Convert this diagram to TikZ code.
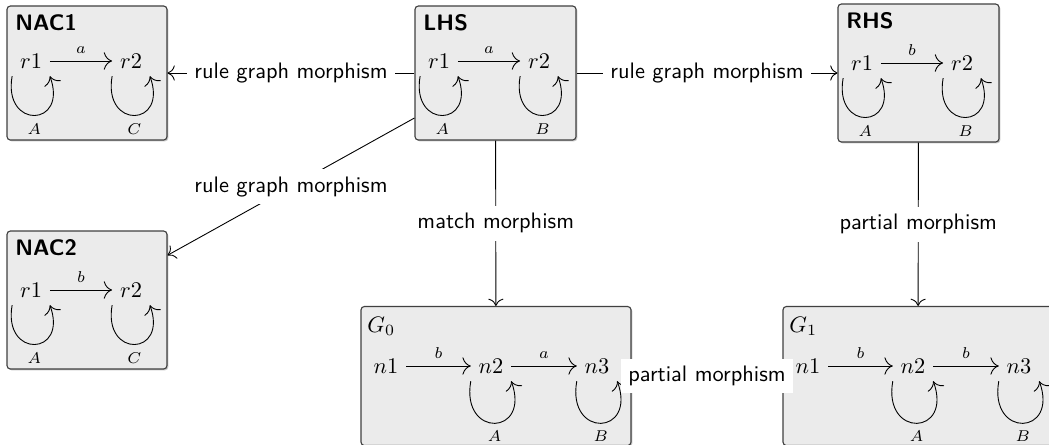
\documentclass[tikz,border=0pt]{standalone}
\usetikzlibrary{shadows,arrows.meta}
\tikzset{
  box/.style={draw=black!75, fill=black!8, rounded corners=1.5pt, line width=0.5pt,
    drop shadow={shadow xshift=0.6pt, shadow yshift=-0.6pt, opacity=0.45}, inner sep=0pt},
  vert/.style={inner sep=3.33pt},
  ttl/.style={font=\sffamily\bfseries, anchor=base west, inner sep=0pt},
  gttl/.style={anchor=base west, inner sep=0pt},
  conn/.style={-{To[scale=1.3]}, line width=0.4pt},
  arr/.style={-{To[scale=1.5]}, line width=0.4pt},
  lab/.style={font=\sffamily, fill=white},
  elab/.style={font=\scriptsize, above},
  llab/.style={font=\scriptsize, below},
  loopy/.style={arr, out=-100, in=-70, looseness=3.7},
}
% #1 prefix, #2 box left x, #3 title baseline y, #4 row y, #5 title, #6 edge label, #7,#8 loop labels
\newcommand{\twograph}[8]{%
  \node[ttl] (#1T) at ({#2+8},{#3}) {#5};
  \node[vert] (#1x) at ({#2+24},{#4}) {$r1$};
  \node[vert] (#1y) at ({#2+124},{#4}) {$r2$};
  \draw[arr] (#1x) -- node[elab]{$#6$} (#1y);
  \draw[loopy] (#1x.south west) to node[llab]{$#7$} (#1x.south east);
  \draw[loopy] (#1y.south west) to node[llab]{$#8$} (#1y.south east);
}
% #1 prefix, #2 box left x, #3 title baseline y, #4 row y, #5 title, #6 #7 edge labels
\newcommand{\threegraph}[7]{%
  \node[gttl] (#1T) at ({#2+6},{#3}) {$#5$};
  \node[vert] (#1x) at ({#2+25},{#4}) {$n1$};
  \node[vert] (#1y) at ({#2+130},{#4}) {$n2$};
  \node[vert] (#1z) at ({#2+236},{#4}) {$n3$};
  \draw[arr] (#1x) -- node[elab]{$#6$} (#1y);
  \draw[arr] (#1y) -- node[elab]{$#7$} (#1z);
  \draw[loopy] (#1y.south west) to node[llab]{$A$} (#1y.south east);
  \draw[loopy] (#1z.south west) to node[llab]{$B$} (#1z.south east);
}
\begin{document}
\begin{tikzpicture}[x=0.4464pt, y=-0.4464pt]
\useasboundingbox (0,0) rectangle (1049,444);
% boxes
\node[box, minimum width=71.42pt, minimum height=59.82pt] (NAC1) at (87,73) {};
\node[box, minimum width=71.87pt, minimum height=59.82pt] (LHS) at (495.5,73) {};
\node[box, minimum width=71.87pt, minimum height=61.60pt] (RHS) at (918.5,73) {};
\node[box, minimum width=71.42pt, minimum height=61.60pt] (NAC2) at (87,300) {};
\node[box, minimum width=120.53pt, minimum height=62.05pt] (G0) at (496,376) {};
\node[box, minimum width=120.53pt, minimum height=62.05pt] (G1) at (918,376) {};
% contents
\twograph{nacone}{7}{30}{61}{NAC1}{a}{A}{C}
\twograph{lhs}{415}{30}{61}{LHS}{a}{A}{B}
\twograph{rhs}{838}{28}{63}{RHS}{b}{A}{B}
\twograph{nactwo}{7}{255}{290}{NAC2}{b}{A}{C}
\threegraph{gzero}{361}{332}{366}{G_0}{b}{a}
\threegraph{gone}{783}{332}{366}{G_1}{b}{b}
% connectors
\draw[conn] (LHS) -- node[lab]{rule graph morphism} (NAC1);
\draw[conn] (LHS) -- node[lab]{rule graph morphism} (RHS);
\draw[conn] (LHS) -- node[lab]{rule graph morphism} (NAC2);
\draw[conn] (LHS) -- node[lab]{match morphism} (G0);
\draw[conn] (RHS) -- node[lab]{partial morphism} (G1);
\draw[conn] (G0) -- node[lab]{partial morphism} (G1);
\end{tikzpicture}
\end{document}
